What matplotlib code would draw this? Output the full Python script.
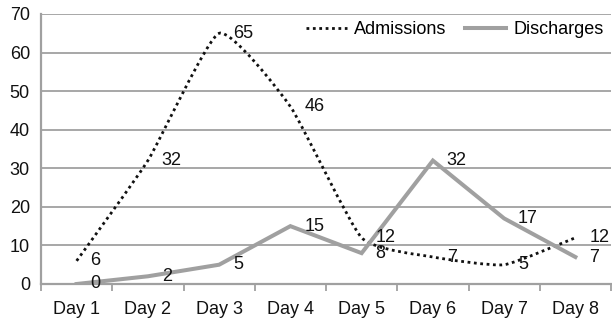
import matplotlib
matplotlib.use("Agg")
import matplotlib.pyplot as plt
from matplotlib.path import Path
from matplotlib.patches import PathPatch
from matplotlib.lines import Line2D

# DATA
days = ["Day 1", "Day 2", "Day 3", "Day 4", "Day 5", "Day 6", "Day 7", "Day 8"]
admissions = [6, 32, 65, 46, 12, 7, 5, 12]
discharges = [0, 2, 5, 15, 8, 32, 17, 7]

plt.rcParams['font.family'] = ['Liberation Sans', 'DejaVu Sans']
grey = "#a0a0a0"
dark = "#111111"
fs = 13
tension = 1 / 12  # smoothing strength of the admissions curve


def smooth_path(xs, ys, f):
    # lightly smoothed line: bezier segments with catmull-rom style control points
    n = len(xs)
    verts = [(xs[0], ys[0])]
    codes = [Path.MOVETO]
    for i in range(n - 1):
        i0 = max(i - 1, 0)
        i3 = min(i + 2, n - 1)
        c1 = (xs[i] + (xs[i + 1] - xs[i0]) * f, ys[i] + (ys[i + 1] - ys[i0]) * f)
        c2 = (xs[i + 1] - (xs[i3] - xs[i]) * f, ys[i + 1] - (ys[i3] - ys[i]) * f)
        verts += [c1, c2, (xs[i + 1], ys[i + 1])]
        codes += [Path.CURVE4] * 3
    return Path(verts, codes)


fig = plt.figure(figsize=(6.12, 3.18), dpi=100)
ax = fig.add_axes([41 / 612, 34 / 318, 570 / 612, 270 / 318])

x = list(range(len(days)))

# admissions (smoothed, dotted)
dots = (0, (1, 1.3))
patch = PathPatch(smooth_path(x, admissions, tension), fill=False, edgecolor=dark,
                  linewidth=2.0, linestyle=dots, capstyle='butt', zorder=3)
ax.add_patch(patch)

# discharges (straight, grey)
ax.plot(x, discharges, color=grey, linewidth=2.9, zorder=3, solid_joinstyle='miter')

# data labels, right of each point
for xi, v in zip(x, admissions):
    ax.annotate(str(v), (xi, v), xytext=(10, 0), textcoords='offset points',
                ha='left', va='center', fontsize=fs, color=dark, zorder=4)
for xi, v in zip(x, discharges):
    ax.annotate(str(v), (xi, v), xytext=(10, 0), textcoords='offset points',
                ha='left', va='center', fontsize=fs, color=dark, zorder=4)

ax.set_xlim(-0.5, len(days) - 0.5)
ax.set_ylim(0, 70)
ax.set_yticks(range(0, 71, 10))
ax.set_xticks(x)
ax.set_xticklabels(days)
ax.set_xticks([i - 0.5 for i in range(len(days) + 1)], minor=True)
ax.tick_params(axis='x', which='major', length=0, labelsize=fs, colors=dark, pad=12)
ax.tick_params(axis='x', which='minor', length=5, width=1.3, color=grey)
ax.tick_params(axis='y', length=0, labelsize=fs, colors=dark, pad=8)

ax.grid(axis='y', color=grey, linewidth=1.3)
ax.set_axisbelow(True)
for s in ['top', 'right']:
    ax.spines[s].set_visible(False)
for s in ['left', 'bottom']:
    ax.spines[s].set_color(grey)
    ax.spines[s].set_linewidth(1.6)

handles = [Line2D([], [], color=dark, linewidth=2.0, linestyle=dots,
                  dash_capstyle='butt'),
           Line2D([], [], color=grey, linewidth=2.9)]
ax.legend(handles, ["Admissions", "Discharges"], loc='upper right', ncol=2,
          frameon=False, fontsize=fs, handlelength=2.3, handletextpad=0.4,
          columnspacing=1.0, bbox_to_anchor=(1.0, 1.0), borderaxespad=0.1,
          borderpad=0.3)

fig.savefig("out.png", dpi=100)
